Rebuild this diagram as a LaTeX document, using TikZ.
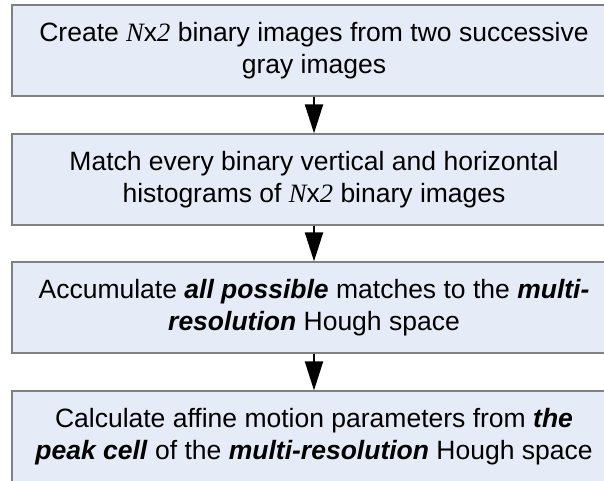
\documentclass[tikz,border=0pt]{standalone}
\usepackage{fontspec}
\setmainfont{Liberation Sans}
\newfontfamily\serifit{Liberation Serif}[ItalicFont=* Italic]
\usetikzlibrary{arrows.meta}
\definecolor{stepfill}{RGB}{230,236,247}
\definecolor{stepdraw}{RGB}{128,128,128}
\newcommand{\Nx}{{\serifit\itshape N}x{\serifit\itshape 2}}
\newcommand{\bi}[1]{\textbf{\textit{#1}}}

\begin{document}
\begin{tikzpicture}[x=1pt,y=-1pt,
  stepbox/.style={draw=stepdraw,line width=1.2pt,fill=stepfill,align=center,
                  minimum width=604pt,minimum height=91pt,inner sep=0pt,
                  font=\fontsize{26.5}{32}\selectfont},
  flow/.style={-{Triangle[length=29pt,width=18pt]},line width=2pt}
]
\useasboundingbox (0,0) rectangle (604,481);
\clip (0,0) rectangle (604,481);
% the four processing steps
\node[stepbox] (create) at (314,50.5)
  {Create \Nx{} binary images from two successive\\gray images};
\node[stepbox] (match) at (314,179.5)
  {Match every binary vertical and horizontal\\histograms of \Nx{} binary images};
\node[stepbox] (accum) at (314,307.5)
  {Accumulate \bi{all possible} matches to the \bi{multi-}\\\bi{resolution} Hough space};
\node[stepbox] (calc) at (314,436.5)
  {Calculate affine motion parameters from \bi{the}\\\bi{peak cell} of the \bi{multi-resolution} Hough space};

% arrows between steps
\draw[flow] (create)--(match);
\draw[flow] (match)--(accum);
\draw[flow] (accum)--(calc);
\end{tikzpicture}
\end{document}
